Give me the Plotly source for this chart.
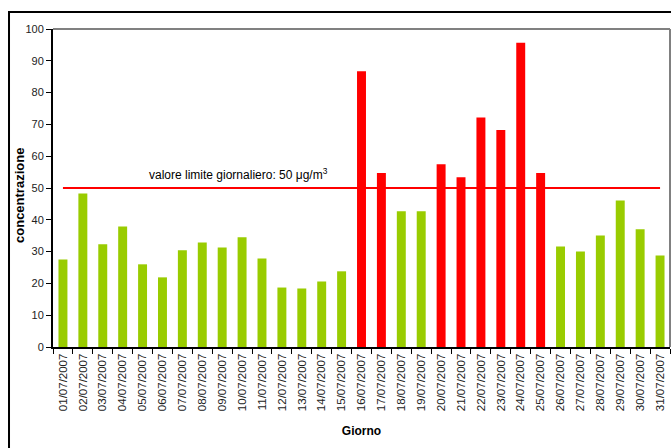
import plotly.graph_objects as go

days = [f"{d:02d}/07/2007" for d in range(1, 32)]
values = [27.5, 48.3, 32.3, 37.9, 26.0, 21.9, 30.4, 32.9, 31.3, 34.5,
          27.8, 18.7, 18.4, 20.6, 23.8, 86.7, 54.7, 42.7, 42.7, 57.5,
          53.4, 72.2, 68.2, 95.7, 54.7, 31.6, 30.0, 35.1, 46.1, 37.0, 28.8]
limit = 50
colors = ["#FF0000" if v > limit else "#99CC00" for v in values]

fig = go.Figure()
fig.add_trace(go.Bar(x=days, y=values, marker=dict(color=colors, line=dict(width=0)),
                     showlegend=False, hoverinfo="x+y"))
fig.add_trace(go.Scatter(x=[days[0], days[-1]], y=[limit, limit], mode="lines",
                         line=dict(color="#FF0000", width=2), showlegend=False))

fig.add_annotation(x=days[3], y=limit, xref="x", yref="y", xanchor="left", yanchor="bottom",
                   xshift=24, yshift=4,
                   text="valore limite giornaliero: 50 μg/m<sup>3</sup>", showarrow=False,
                   font=dict(family="Liberation Sans, Arial", size=12, color="#000000"))
fig.add_annotation(x=-0.0535, y=0.478, xref="paper", yref="paper", xanchor="center",
                   yanchor="middle", textangle=-90, showarrow=False,
                   text="<b>concentrazione</b>",
                   font=dict(family="Liberation Sans, Arial", size=13, color="#000000"))

fig.update_layout(
    width=671, height=448,
    margin=dict(l=53, r=1, t=29, b=101, autoexpand=False),
    paper_bgcolor="white", plot_bgcolor="white",
    bargap=0.55,
    font=dict(family="Liberation Sans, Arial", size=11, color="#000000"),
    xaxis=dict(type="category", tickangle=-90, ticks="outside", tickson="boundaries",
               ticklen=5, tickcolor="#000000", showline=True, linecolor="#000000",
               linewidth=2, showgrid=False, tickfont=dict(size=11.5, color="#222222"),
               automargin=False,
               title=dict(text="<b>Giorno</b>", font=dict(size=12), standoff=16)),
    yaxis=dict(range=[0, 100], dtick=10, ticks="outside", ticklen=5, tickcolor="#000000",
               showline=True, linecolor="#000000", linewidth=2, showgrid=False, zeroline=False,
               tickfont=dict(size=11, color="#222222"), automargin=False),
    shapes=[
        dict(type="line", xref="paper", yref="paper", x0=0, x1=1, y0=1, y1=1,
             line=dict(color="#808080", width=2)),
        dict(type="line", xref="paper", yref="paper", x0=1, x1=1, y0=0, y1=1,
             line=dict(color="#808080", width=2)),
        dict(type="rect", xref="paper", yref="paper", x0=-0.0713, x1=1.2, y0=-0.5, y1=1.0535,
             line=dict(color="#000000", width=2), fillcolor="rgba(0,0,0,0)"),
    ],
)

fig.write_html("out.html", config={"displayModeBar": False},
               post_script="document.body.style.margin='0px';")
